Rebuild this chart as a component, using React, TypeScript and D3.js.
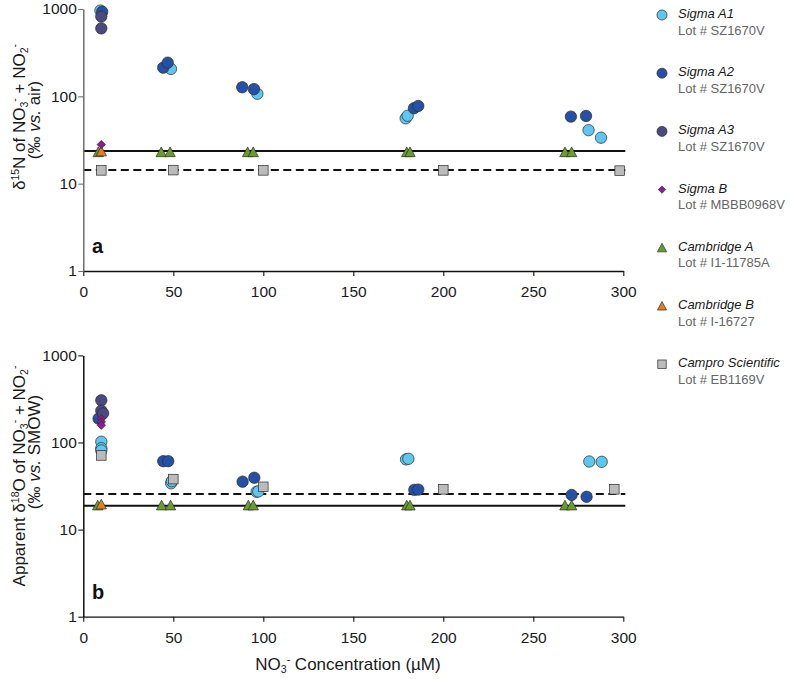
import React, { useRef, useEffect } from "react";
import * as d3 from "d3";

const FONT = "'Liberation Sans', Arial, sans-serif";

const xTicks = [0, 50, 100, 150, 200, 250, 300];
const yTicks = [1, 10, 100, 1000];

const seriesNames = ["Sigma A1", "Sigma A2", "Sigma A3", "Sigma B", "Cambridge A", "Cambridge B", "Campro Scientific"];
const lotLabels = ["Lot # SZ1670V", "Lot # SZ1670V", "Lot # SZ1670V", "Lot # MBBB0968V", "Lot # I1-11785A", "Lot # I-16727", "Lot # EB1169V"];
const seriesColors = ["#5DC7EF", "#2451A6", "#4B4981", "#8C1D8B", "#6A9B2D", "#E07F1D", "#BBBBBB"];
const seriesShapes = ["circle", "circle", "circle", "diamond", "triangle", "triangle", "square"];

// Panel a: d15N
const a1N_x = [9.5, 48.7, 96.7, 179.1, 180.2, 280.7, 287.6];
const a1N_y = [960, 206, 107, 56, 60, 41, 33.6];
const a2N_x = [10.5, 44.4, 46.9, 88.3, 94.8, 183.7, 186.1, 270.9, 279.3];
const a2N_y = [930, 213, 243, 127, 121, 73, 77.6, 58.6, 59.6];
const a3N_x = [10, 10];
const a3N_y = [820, 600];
const sbN_x = [10];
const sbN_y = [28];
const caN_x = [8.3, 43.3, 48.2, 91.3, 94.4, 179.7, 181.5, 267.6, 271.3];
const caN_y = [23, 23, 23, 23, 23, 23, 23, 23, 23];
const cbN_x = [10];
const cbN_y = [23.5];
const cpN_x = [10, 50, 100, 200, 298];
const cpN_y = [14.2, 14.3, 14.2, 14.2, 14.1];
const refN_solid = 23.7;
const refN_dashed = 14.35;

// Panel b: d18O
const a1O_x = [10, 10, 10, 48.8, 49.2, 96.3, 97.2, 179.3, 180.6, 281.1, 288];
const a1O_y = [102, 86, 81, 34, 36, 27.2, 27.4, 64, 65, 60.5, 60];
const a2O_x = [8.5, 44.4, 47.2, 88.5, 95, 183.9, 186.1, 271.3, 279.6];
const a2O_y = [188, 61, 61, 35.5, 39.4, 28.6, 28.8, 25, 23.8];
const a3O_x = [10, 10, 11];
const a3O_y = [305, 232, 216];
const sbO_x = [10, 10, 10];
const sbO_y = [188, 172, 158];
const caO_x = [8, 43.5, 48.5, 91.7, 94.4, 179.7, 181.5, 267.6, 271.3];
const caO_y = [19, 19, 19, 19, 19, 19, 19, 19, 19];
const cbO_x = [10];
const cbO_y = [19.5];
const cpO_x = [10, 50, 100, 200, 295];
const cpO_y = [71, 38, 31, 29, 29];
const refO_solid = 18.8;
const refO_dashed = 25.6;

type Pt = { x: number; y: number };
const zip = (xs: number[], ys: number[]): Pt[] => xs.map((x, i) => ({ x, y: ys[i] }));

const dataN: Pt[][] = [
  zip(a1N_x, a1N_y), zip(a2N_x, a2N_y), zip(a3N_x, a3N_y), zip(sbN_x, sbN_y),
  zip(caN_x, caN_y), zip(cbN_x, cbN_y), zip(cpN_x, cpN_y),
];
const dataO: Pt[][] = [
  zip(a1O_x, a1O_y), zip(a2O_x, a2O_y), zip(a3O_x, a3O_y), zip(sbO_x, sbO_y),
  zip(caO_x, caO_y), zip(cbO_x, cbO_y), zip(cpO_x, cpO_y),
];

// draw order: triangles, A1, A2, A3, squares, diamonds
const drawOrder = [4, 5, 0, 1, 2, 6, 3];

function Marker({ shape, cx, cy, fill, s }: { shape: string; cx: number; cy: number; fill: string; s: number }) {
  const stroke = "#2b2b2b";
  const sw = 0.7;
  if (shape === "circle") return <circle cx={cx} cy={cy} r={5.7 * s} fill={fill} stroke={stroke} strokeWidth={sw} />;
  if (shape === "square") {
    const h = 4.8 * s;
    return <rect x={cx - h} y={cy - h} width={2 * h} height={2 * h} fill={fill} stroke={stroke} strokeWidth={sw} />;
  }
  if (shape === "diamond") {
    const h = 4.2 * s;
    return <path d={`M${cx},${cy - h}L${cx + h},${cy}L${cx},${cy + h}L${cx - h},${cy}Z`} fill={fill} stroke={stroke} strokeWidth={sw} />;
  }
  const w = 5.2 * s;
  const hh = 4.6 * s;
  return <path d={`M${cx},${cy - hh - 0.5}L${cx + w},${cy + hh}L${cx - w},${cy + hh}Z`} fill={fill} stroke={stroke} strokeWidth={sw} />;
}

const x = d3.scaleLinear().domain([0, 300]).range([83.3, 623.3]);

function Panel({ data, yTop, yBottom, solid, dashed, letter, yAxisColor }: {
  data: Pt[][]; yTop: number; yBottom: number; solid: number; dashed: number; letter: string; yAxisColor: string;
}) {
  const y = d3.scaleLog().domain([1, 1000]).range([yBottom, yTop]);
  const xRef = useRef<SVGGElement>(null);
  const yRef = useRef<SVGGElement>(null);
  useEffect(() => {
    const gx = d3.select(xRef.current!);
    gx.call(d3.axisBottom(x).tickValues(xTicks).tickSize(5).tickPadding(10).tickSizeOuter(0) as any);
    gx.attr("font-size", null).attr("font-family", null);
    gx.selectAll("text").attr("font-size", 15.5).attr("font-family", FONT).attr("fill", "#1a1a1a");
    gx.select(".domain").attr("stroke", "#111").attr("stroke-width", 1.3);
    gx.selectAll(".tick line").attr("stroke", "#111").attr("stroke-width", 1.1);
    const gy = d3.select(yRef.current!);
    gy.call(d3.axisLeft(y).tickValues(yTicks).tickFormat(d3.format("d") as any).tickSize(5).tickPadding(1.5).tickSizeOuter(0) as any);
    gy.attr("font-size", null).attr("font-family", null);
    gy.selectAll("text").attr("font-size", 15.5).attr("font-family", FONT).attr("fill", "#1a1a1a");
    gy.select(".domain").attr("stroke", yAxisColor).attr("stroke-width", 1.5);
    gy.selectAll(".tick line").attr("stroke", yAxisColor).attr("stroke-width", 1.1);
  }, []);
  return (
    <g>
      <line x1={x(0)} x2={x(300) + 2} y1={y(solid)} y2={y(solid)} stroke="#111" strokeWidth={2} />
      <line x1={x(0)} x2={x(300) + 2} y1={y(dashed)} y2={y(dashed)} stroke="#111" strokeWidth={2} strokeDasharray="8,4.5" />
      <g ref={xRef} transform={`translate(0,${yBottom})`} />
      <g ref={yRef} transform={`translate(${x(0)},0)`} />
      {drawOrder.map((si) =>
        data[si].map((p, i) => (
          <Marker key={`${si}-${i}`} shape={seriesShapes[si]} cx={x(p.x)} cy={y(p.y)} fill={seriesColors[si]} s={1} />
        ))
      )}
      <text x={92} y={yBottom - 18} fontFamily={FONT} fontWeight="bold" fontSize={20} fill="#111">{letter}</text>
    </g>
  );
}

export default function App() {
  const legendTop = 15;
  const legendStep = 58.2;
  const fs = 17;
  const ss = 10.5;
  return (
    <svg width={792} height={679} style={{ position: "absolute", left: 0, top: 0, background: "#fff" }}>
      <rect width={792} height={679} fill="#fff" />
      <Panel data={dataN} yTop={9} yBottom={271} solid={refN_solid} dashed={refN_dashed} letter="a" yAxisColor="#6e6e6e" />
      <Panel data={dataO} yTop={355.4} yBottom={616.7} solid={refO_solid} dashed={refO_dashed} letter="b" yAxisColor="#111" />

      {/* Y titles */}
      <g fontFamily={FONT} fontSize={fs} fill="#1a1a1a">
        <text transform="translate(25,117) rotate(-90)" textAnchor="middle">
          δ<tspan fontSize={ss} dy={-6}>15</tspan><tspan dy={6}>N of NO</tspan>
          <tspan fontSize={ss} dy={3}>3</tspan><tspan fontSize={ss} dy={-10}>-</tspan>
          <tspan dy={7}> + NO</tspan><tspan fontSize={ss} dy={3}>2</tspan><tspan fontSize={ss} dy={-10}>-</tspan>
        </text>
        <text transform="translate(40,120) rotate(-90)" textAnchor="middle">
          (‰ <tspan fontStyle="italic">vs.</tspan> air)
        </text>
        <text transform="translate(25,476) rotate(-90)" textAnchor="middle">
          Apparent δ<tspan fontSize={ss} dy={-6}>18</tspan><tspan dy={6}>O of NO</tspan>
          <tspan fontSize={ss} dy={3}>3</tspan><tspan fontSize={ss} dy={-10}>-</tspan>
          <tspan dy={7}> + NO</tspan><tspan fontSize={ss} dy={3}>2</tspan><tspan fontSize={ss} dy={-10}>-</tspan>
        </text>
        <text transform="translate(40,452) rotate(-90)" textAnchor="middle">
          (‰ <tspan fontStyle="italic">vs.</tspan> SMOW)
        </text>
        <text x={348} y={670} textAnchor="middle">
          NO<tspan fontSize={ss} dy={3}>3</tspan><tspan fontSize={ss} dy={-10}>-</tspan><tspan dy={7}> Concentration (µM)</tspan>
        </text>
      </g>

      {/* Legend */}
      <g fontFamily={FONT} fontSize={13}>
        {seriesNames.map((name, i) => {
          const cy = legendTop + i * legendStep;
          return (
            <g key={name}>
              <Marker shape={seriesShapes[i]} cx={662} cy={cy} fill={seriesColors[i]} s={0.88} />
              <text x={678} y={cy + 3} fontStyle="italic" fill="#1a1a1a">{name}</text>
              <text x={678} y={cy + 19.5} fill="#666">{lotLabels[i]}</text>
            </g>
          );
        })}
      </g>
    </svg>
  );
}
